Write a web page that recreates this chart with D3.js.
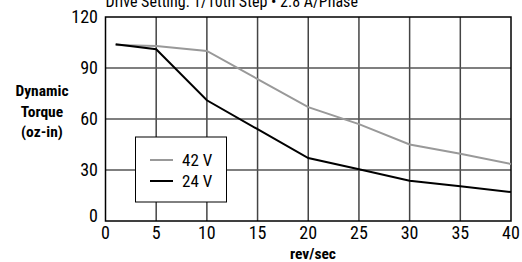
<!DOCTYPE html>
<html>
<head>
<meta charset="utf-8">
<script src="https://cdn.jsdelivr.net/npm/d3@7"></script>
<style>
  body { margin: 0; background: #fff; }
  text { font-family: "Liberation Sans Narrow", "Arial Narrow", "Roboto Condensed", sans-serif; }
</style>
</head>
<body>
<div id="chart"></div>
<script>
// Data
const speeds42 = [1, 5, 10, 15, 20, 25, 30, 35, 40];
const torque42 = [103.5, 103, 100, 83.5, 67, 57, 45, 39.5, 33.5];
const speeds24 = [1, 5, 10, 15, 20, 25, 30, 35, 40];
const torque24 = [104, 101, 71, 54, 37, 30.5, 23.7, 20.5, 17];
const xTicks = [0, 5, 10, 15, 20, 25, 30, 35, 40];
const yTicks = [0, 30, 60, 90, 120];
const seriesNames = ['42 V', '24 V'];
const seriesColors = ['#999999', '#000000'];

// Chart dimensions
const width = 522;
const height = 262;
const plotLeft = 105.5, plotRight = 511, plotTop = 17, plotBottom = 221;

const svg = d3.select('#chart')
  .append('svg')
  .attr('width', width)
  .attr('height', height);

// Scales
const xScale = d3.scaleLinear().domain([0, 40]).range([plotLeft, plotRight]);
const yScale = d3.scaleLinear().domain([0, 120]).range([plotBottom, plotTop]);

// Grid
svg.append('g')
  .selectAll('line')
  .data(xTicks.slice(1, -1))
  .enter()
  .append('line')
  .attr('x1', d => xScale(d)).attr('x2', d => xScale(d))
  .attr('y1', plotTop).attr('y2', plotBottom)
  .attr('stroke', '#444').attr('stroke-width', 1.5);

svg.append('g')
  .selectAll('line')
  .data(yTicks.slice(1, -1))
  .enter()
  .append('line')
  .attr('x1', plotLeft).attr('x2', plotRight)
  .attr('y1', d => yScale(d)).attr('y2', d => yScale(d))
  .attr('stroke', '#555').attr('stroke-width', 1.5);

// Frame
svg.append('rect')
  .attr('x', plotLeft).attr('y', plotTop)
  .attr('width', plotRight - plotLeft).attr('height', plotBottom - plotTop)
  .attr('fill', 'none').attr('stroke', '#000').attr('stroke-width', 1.5);

// Lines
const line = d3.line()
  .x(d => xScale(d[0]))
  .y(d => yScale(d[1]));

const series = [
  d3.zip(speeds42, torque42),
  d3.zip(speeds24, torque24)
];

svg.selectAll('.series')
  .data(series)
  .enter()
  .append('path')
  .attr('class', 'series')
  .attr('d', line)
  .attr('fill', 'none')
  .attr('stroke', (d, i) => seriesColors[i])
  .attr('stroke-width', 2);

// X axis labels
svg.append('g')
  .selectAll('text')
  .data(xTicks)
  .enter()
  .append('text')
  .attr('x', d => xScale(d))
  .attr('y', 239)
  .attr('text-anchor', 'middle')
  .attr('font-size', 18)
  .text(d => d);

// Y axis labels
svg.append('g')
  .selectAll('text')
  .data(yTicks)
  .enter()
  .append('text')
  .attr('x', 98)
  .attr('y', d => d === 0 ? yScale(d) + 1 : yScale(d) + 6)
  .attr('text-anchor', 'end')
  .attr('font-size', 18)
  .text(d => d);

// Title
svg.append('text')
  .attr('x', plotLeft)
  .attr('y', 7)
  .attr('font-size', 16)
  .text('Drive Setting: 1/10th Step • 2.8 A/Phase');

// Axis titles
const yTitle = svg.append('text')
  .attr('text-anchor', 'middle')
  .attr('font-size', 15.5)
  .attr('font-weight', 'bold');
['Dynamic', 'Torque', '(oz-in)'].forEach((t, i) => {
  yTitle.append('tspan').attr('x', 42).attr('y', 96 + i * 20.5).text(t);
});

svg.append('text')
  .attr('x', 313)
  .attr('y', 259)
  .attr('text-anchor', 'middle')
  .attr('font-size', 15.5)
  .attr('font-weight', 'bold')
  .text('rev/sec');

// Legend
const legend = svg.append('g');
legend.append('rect')
  .attr('x', 135.5).attr('y', 137)
  .attr('width', 91).attr('height', 65)
  .attr('fill', '#fff').attr('stroke', '#000').attr('stroke-width', 1);

seriesNames.forEach((name, i) => {
  const y = 160 + i * 21;
  legend.append('line')
    .attr('x1', 150).attr('x2', 173)
    .attr('y1', y).attr('y2', y)
    .attr('stroke', seriesColors[i]).attr('stroke-width', 2);
  legend.append('text')
    .attr('x', 182).attr('y', y + 6)
    .attr('font-size', 17)
    .text(name);
});
</script>
</body>
</html>
